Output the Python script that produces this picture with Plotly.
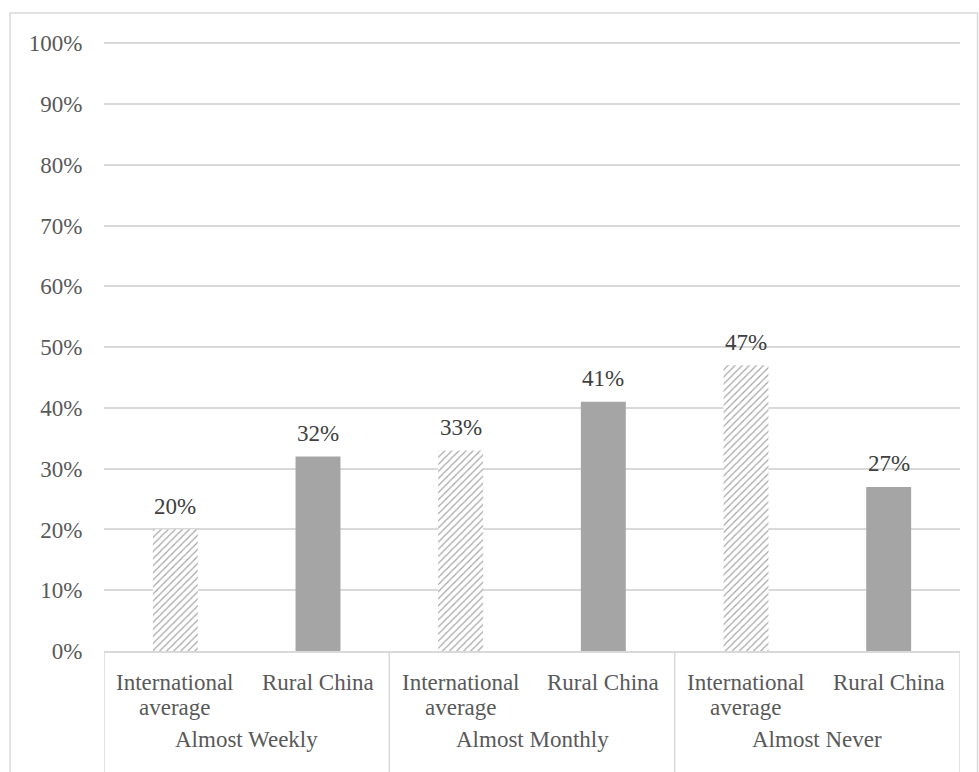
import plotly.graph_objects as go

# Frequency groups and the two populations compared within each group
groups = ["Almost Weekly", "Almost Monthly", "Almost Never"]
populations = [["International", "average"], ["Rural China"]]

# Share of respondents (%) per group
international_avg = [20, 33, 47]
rural_china = [32, 41, 27]

y_ticks = list(range(0, 101, 10))
y_tick_labels = [f"{t}%" for t in y_ticks]

FONT = "Liberation Serif, Times New Roman, serif"
GRID = "#d9d9d9"
LABEL = "#595959"
SIZE = 23
BAR_W = 0.315

# positions: two bars per group, laid out on a linear axis
n_pop = len(populations)
xs, values, hatched = [], [], []
for gi, (a, b) in enumerate(zip(international_avg, rural_china)):
    xs += [gi * n_pop, gi * n_pop + 1]
    values += [a, b]
    hatched += [True, False]

fig = go.Figure(
    go.Bar(
        x=xs,
        y=values,
        width=BAR_W,
        marker=dict(
            color=["white" if h else "#a5a5a5" for h in hatched],
            line=dict(width=0),
            pattern=dict(
                shape=["/" if h else "" for h in hatched],
                fgcolor="#808080",
                bgcolor="white",
                size=5,
                solidity=0.22,
            ),
        ),
        hoverinfo="skip",
        showlegend=False,
    )
)

annotations = []
# value labels above bars
for x, v in zip(xs, values):
    annotations.append(dict(
        x=x, y=v, xref="x", yref="y", text=f"{v}%", showarrow=False,
        yanchor="middle", yshift=23,
        font=dict(family=FONT, size=SIZE, color="#404040"),
    ))
# category labels (one annotation per text line)
for gi in range(len(groups)):
    for pi, lines in enumerate(populations):
        for li, line in enumerate(lines):
            annotations.append(dict(
                x=gi * n_pop + pi, y=0, xref="x", yref="paper", text=line,
                showarrow=False, yanchor="middle", yshift=-31 - 25 * li,
                font=dict(family=FONT, size=SIZE, color=LABEL),
            ))
    # group label
    annotations.append(dict(
        x=gi * n_pop + (n_pop - 1) / 2, y=0, xref="x", yref="paper",
        text=groups[gi], showarrow=False, yanchor="middle", yshift=-88,
        font=dict(family=FONT, size=SIZE, color=LABEL),
    ))

shapes = [
    # chart frame
    dict(type="rect", xref="paper", yref="paper",
         x0=-0.1098, x1=1.0205, y0=-0.5, y1=1.0476,
         line=dict(color=GRID, width=1.5), layer="below"),
]
# group dividers below the axis
for gi in range(len(groups) + 1):
    shapes.append(dict(
        type="line", xref="x", yref="paper",
        x0=gi * n_pop - 0.5, x1=gi * n_pop - 0.5, y0=0, y1=-0.3,
        line=dict(color=GRID, width=1.5),
    ))

fig.update_layout(
    width=979,
    height=772,
    margin=dict(l=104, r=19, t=42, b=121),
    paper_bgcolor="white",
    plot_bgcolor="white",
    font=dict(family=FONT, size=SIZE, color=LABEL),
    annotations=annotations,
    shapes=shapes,
)

fig.update_xaxes(
    range=[-0.5, len(groups) * n_pop - 0.5],
    showline=True,
    linecolor=GRID,
    linewidth=1.5,
    showgrid=False,
    zeroline=False,
    showticklabels=False,
    ticks="",
)

fig.update_yaxes(
    range=[0, 100.2],
    tickvals=y_ticks,
    ticktext=y_tick_labels,
    showgrid=True,
    gridcolor=GRID,
    gridwidth=1.5,
    zeroline=False,
    showline=False,
    ticks="outside",
    tickcolor="white",
    ticklen=16,
    tickfont=dict(family=FONT, size=SIZE, color=LABEL),
)

fig.write_html("out.html")
